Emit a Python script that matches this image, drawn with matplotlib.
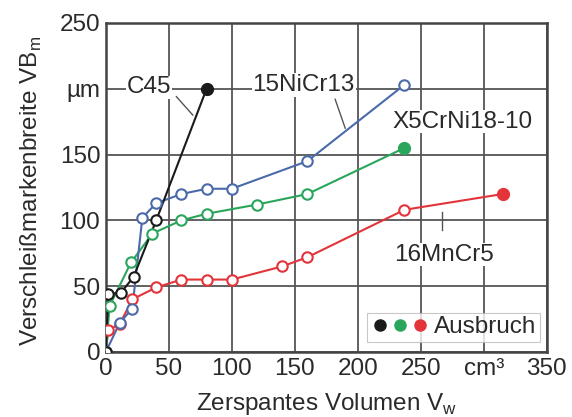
import matplotlib
matplotlib.use("Agg")
import matplotlib.pyplot as plt
from matplotlib.lines import Line2D
from matplotlib.legend_handler import HandlerTuple

plt.rcParams['font.family'] = ['Liberation Sans', 'DejaVu Sans']

# Data (volume cm^3, wear width um)
c45_x = [0, 2, 12, 22, 40]
c45_y = [0, 44, 45, 57, 100]
c45_break = (80, 200)

nicr_x = [0, 11, 21, 29, 40, 60, 80, 100, 160, 237]
nicr_y = [0, 22, 33, 102, 113, 120, 124, 124, 145, 203]

x5_x = [0, 3, 20, 37, 60, 80, 120, 160]
x5_y = [0, 35, 68, 90, 100, 105, 112, 120]
x5_break = (237, 155)

mn_x = [0, 2, 11, 21, 40, 60, 80, 100, 140, 160, 237]
mn_y = [0, 17, 21, 40, 49, 55, 55, 55, 65, 72, 108]
mn_break = (315, 120)

xticks = [0, 50, 100, 150, 200, 250, 300, 350]
xticklabels = ['0', '50', '100', '150', '200', '250', 'cm³', '350']
yticks = [0, 50, 100, 150, 200, 250]
yticklabels = ['0', '50', '100', '150', 'µm', '250']

c_black = '#1a1a1a'
c_blue = '#4b6aaa'
c_green = '#2aa55c'
c_red = '#e3343a'
c_text = '#2a2a2a'
FS = 17.5

fig = plt.figure(figsize=(5.72, 4.17), dpi=100)
ax = fig.add_axes([0.185, 0.156, 0.771, 0.789])

ax.set_xlim(0, 350)
ax.set_ylim(0, 250)
ax.set_xticks(xticks)
ax.set_xticklabels(xticklabels)
ax.set_yticks(yticks)
ax.set_yticklabels(yticklabels)
ax.grid(True, color='#555555', linewidth=1.3)
ax.set_axisbelow(True)
for s in ax.spines.values():
    s.set_color('#444444')
    s.set_linewidth(1.8)
ax.tick_params(length=0, labelsize=FS, colors=c_text)
ax.tick_params(axis='x', pad=4)
ax.tick_params(axis='y', pad=4)


def series(xs, ys, col, brk=None):
    lx = list(xs) + ([brk[0]] if brk else [])
    ly = list(ys) + ([brk[1]] if brk else [])
    ax.plot(lx, ly, color=col, linewidth=1.5, zorder=3)
    ax.plot(xs, ys, linestyle='none', color=col, marker='o', markersize=7.5,
            markerfacecolor='white', markeredgewidth=1.5, zorder=4)
    if brk:
        ax.plot([brk[0]], [brk[1]], linestyle='none', marker='o', markersize=8.5,
                color=col, zorder=5)


series(mn_x, mn_y, c_red, mn_break)
series(x5_x, x5_y, c_green, x5_break)
series(nicr_x, nicr_y, c_blue)
series(c45_x, c45_y, c_black, c45_break)

# Labels with leader lines
tk = dict(fontsize=FS, color=c_text, zorder=6)
bb = dict(facecolor='white', edgecolor='none', pad=0.5)
ax.text(34, 201, 'C45', ha='center', va='center', bbox=bb, **tk)
ax.plot([56, 69], [194, 180], color='#555555', linewidth=1, zorder=2.5)
ax.text(157, 203, '15NiCr13', ha='center', va='center', bbox=bb, **tk)
ax.plot([182, 190], [192, 170], color='#555555', linewidth=1, zorder=2.5)
ax.text(283, 175, 'X5CrNi18-10', ha='center', va='center', bbox=bb, **tk)
ax.text(268, 74, '16MnCr5', ha='center', va='center', bbox=bb, **tk)
ax.plot([267, 267], [106, 93], color='#555555', linewidth=1, zorder=2.5)

handles = [(Line2D([], [], color=c_black, marker='o', linestyle='none', markersize=8),
            Line2D([], [], color=c_green, marker='o', linestyle='none', markersize=8),
            Line2D([], [], color=c_red, marker='o', linestyle='none', markersize=8))]
leg = ax.legend(handles, ['Ausbruch'], handler_map={tuple: HandlerTuple(ndivide=None, pad=0.05)},
                loc='lower right', bbox_to_anchor=(0.985, 0.03), fontsize=FS,
                frameon=True, fancybox=False, handlelength=2.4, handletextpad=0.2,
                borderpad=0.15, borderaxespad=0)
for t in leg.get_texts():
    t.set_color(c_text)
leg.get_frame().set_edgecolor('#bbbbbb')
leg.get_frame().set_linewidth(0.8)
leg.set_zorder(7)

ax.set_xlabel('Zerspantes Volumen V$_\\mathregular{w}$', fontsize=FS, color=c_text)
ax.set_ylabel('Verschleißmarkenbreite VB$_\\mathregular{m}$', fontsize=FS, color=c_text)
ax.xaxis.set_label_coords(0.5, -0.12)
ax.yaxis.set_label_coords(-0.14, 0.49)

fig.savefig('out.png', dpi=100)
